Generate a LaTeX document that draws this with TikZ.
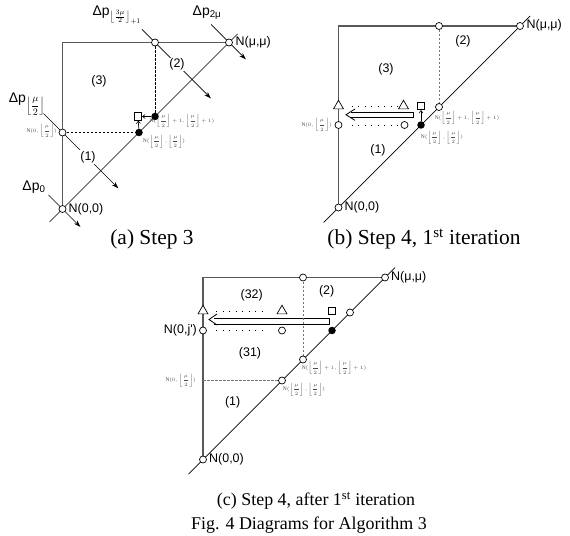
\documentclass[tikz,border=0pt]{standalone}
\usepackage{amsmath}
\usepackage{fontspec}
\setmainfont{Liberation Serif}
\newfontfamily\lsans{Liberation Sans}
\usetikzlibrary{arrows.meta,shapes.geometric,calc}
\newcommand{\myfl}{\left\lfloor\dfrac{\mu}{2}\right\rfloor}
\newcommand{\NHH}{$\mathrm{N}(\myfl,\myfl)$}
\newcommand{\NHP}{$\mathrm{N}(\myfl+1,\myfl+1)$}
\newcommand{\NZH}{$\mathrm{N}(0,\myfl)$}
\tikzset{
 frame/.style={draw=black!65, line width=1.1bp},
 diag/.style={draw=black, line width=0.7bp},
 adiag/.style={draw=black, line width=0.7bp, -{Stealth[length=7bp,width=4.5bp]}},
 oc/.style={circle, draw=black, fill=white, line width=0.7bp, inner sep=0pt, minimum size=7bp},
 fc/.style={circle, fill=black, inner sep=0pt, minimum size=7.5bp},
 sq/.style={rectangle, draw, fill=white, line width=0.7bp, inner sep=0pt, minimum size=7.5bp},
 tri/.style={regular polygon, regular polygon sides=3, draw, fill=white, line width=0.7bp, inner sep=0pt, minimum size=11.5bp},
 dsh/.style={line width=0.8bp, dash pattern=on 2.5bp off 1.5bp},
 gdsh/.style={dsh, draw=black!55},
 dots/.style={line width=0.9bp, dash pattern=on 1bp off 5.5bp},
 lab/.style={font=\fontsize{12.5}{14}\selectfont\lsans, inner sep=1bp},
 wlab/.style={lab, fill=white},
 small/.style={font=\fontsize{5.5}{6}\selectfont, text=black!70, inner sep=0pt},
 captext/.style={font=\fontsize{21.5}{24}\selectfont, inner sep=0pt},
 captextc/.style={font=\fontsize{18}{20}\selectfont, inner sep=0pt},
 dp/.style={font=\fontsize{14}{15}\selectfont\lsans, inner sep=0pt},
 sarr/.style={line width=0.6bp, -{Straight Barb[length=2.5bp,width=4bp]}},
 harr/.style={line width=0.8bp},
}
\begin{document}
\begin{tikzpicture}[x=1bp,y=-1bp]
\useasboundingbox (0,0) rectangle (570,536);
% ---------------- panel (a)
\coordinate (Oa) at (62.5,209);
\coordinate (Ma) at (229,42.5);
\coordinate (Ca) at (62.5,42.5);
\coordinate (Ta) at (155,42.5);
\coordinate (La) at (62.5,132.5);
\coordinate (F1a) at (139,132.5);
\coordinate (F2a) at (155,116.5);
\coordinate (Sa) at (138,116.5);
\draw[frame] (Oa) -- (Ca) -- (Ma);
\draw[diag] ($(Oa)+(-13,13)$) -- ($(Ma)+(8.5,-8.5)$);
\draw[adiag] ($(Oa)+(-14,-14)$) -- ($(Oa)+(18,18)$);
\draw[adiag] ($(La)+(-19,-19)$) -- ($(La)+(56,56)$);
\draw[adiag] ($(Ta)+(-13,-13)$) -- ($(Ta)+(56,56)$);
\draw[adiag] ($(Ma)+(-18,-18)$) -- ($(Ma)+(17,17)$);
\draw[dsh] (La) -- (F1a);
\draw[dsh] (Ta) -- (F2a);
\node[oc] (Oan) at (Oa) {};
\node[oc] (Man) at (Ma) {};
\node[oc] (Tan) at (Ta) {};
\node[oc] (Lan) at (La) {};
\node[fc] (F1an) at (F1a) {};
\node[fc] (F2an) at (F2a) {};
\node[sq] (San) at (Sa) {};
\draw[sarr] (F2an) -- (San);
\draw[sarr] (F1an) -- (San);
\node[wlab] (a1) at (88,157) {(1)};
\node[wlab] (a2) at (177,64.5) {(2)};
\node[lab] (a3) at (99,81) {(3)};
\node[lab, anchor=west] (aN0) at (67.5,209) {N(0,0)};
\node[lab, anchor=west] (aNM) at (234.5,42.5) {N(μ,μ)};
\node[dp] (adp0) at (34,187) {Δp\textsubscript{0}};
\node[dp] (adph) at (27,104) {Δp\textsubscript{$\myfl$}};
\node[dp] (adp3) at (117,15) {Δp\textsubscript{$\left\lfloor\frac{3\mu}{2}\right\rfloor_{+1}$}};
\node[dp] (adp2) at (207,13) {Δp\textsubscript{2μ}};
\node[small, anchor=east] (aNZH) at (57,131) {\NZH};
\node[small] (aNHP) at (182,121) {\NHP};
\node[small] (aNHH) at (164,141.5) {\NHH};
\node[captext] (capa) at (152,239) {(a) Step 3};
% ---------------- panel (b)
\coordinate (Ob) at (338.5,207.5);
\coordinate (Mb) at (520,26);
\coordinate (Cb) at (338.5,26);
\coordinate (Tb) at (439,26);
\coordinate (Db) at (439,107);
\coordinate (Fb) at (421,125);
\coordinate (Sb) at (421,106);
\coordinate (TLb) at (338.5,106);
\coordinate (CLb) at (338.5,125);
\coordinate (TIb) at (403.5,106);
\coordinate (CIb) at (404.5,125);
\draw[frame] (Ob) -- (Cb) -- (Mb);
\draw[diag] ($(Ob)+(-15,15)$) -- ($(Mb)+(10,-10)$);
\draw[gdsh] (Tb) -- (Db);
\draw[dots] ($(TLb)+(13,0)$) -- ($(TIb)+(-6,0)$);
\draw[dots] ($(CLb)+(13,0)$) -- ($(CIb)+(-6,0)$);
\draw[harr] (351,112.5) -- (413.5,112.5) -- (413.5,117) -- (351,117);
\draw[harr] (355,109) -- (346,114.7) -- (355,120.4);
\node[oc] (Obn) at (Ob) {};
\node[oc] (Mbn) at (Mb) {};
\node[oc] (Tbn) at (Tb) {};
\node[oc] (Dbn) at (Db) {};
\node[fc] (Fbn) at (Fb) {};
\node[sq] (Sbn) at (Sb) {};
\node[tri] (TLbn) at (TLb) {};
\node[oc] (CLbn) at (CLb) {};
\node[tri] (TIbn) at (TIb) {};
\node[oc] (CIbn) at (CIb) {};
\draw[sarr] (Fbn) -- (Sbn);
\node[lab] (b1) at (378,150) {(1)};
\node[lab] (b2) at (463,41) {(2)};
\node[lab] (b3) at (386,69) {(3)};
\node[lab, anchor=west] (bN0) at (343.5,207.5) {N(0,0)};
\node[lab, anchor=west] (bNM) at (525.5,25) {N(μ,μ)};
\node[small, anchor=east] (bNZH) at (332,125) {\NZH};
\node[small] (bNHP) at (467,118) {\NHP};
\node[small] (bNHH) at (442,137.5) {\NHH};
\node[captext] (capb) at (424,239) {(b) Step 4, 1\textsuperscript{st} iteration};
% ---------------- panel (c)
\coordinate (Oc) at (203,459.5);
\coordinate (Mc) at (385,277.5);
\coordinate (Cc) at (203,277.5);
\coordinate (Tc) at (303,277.5);
\coordinate (Dc) at (303,359.5);
\coordinate (Hc) at (282,380.5);
\coordinate (LHc) at (203,380.5);
\coordinate (Uc) at (350,312.5);
\coordinate (Fc) at (332,330.5);
\coordinate (Sc) at (332,311);
\coordinate (TLc) at (203,311);
\coordinate (CLc) at (203,330.5);
\coordinate (TIc) at (282,311);
\coordinate (CIc) at (282,330.5);
\draw[frame] (Oc) -- (Cc) -- (Mc);
\draw[diag] ($(Oc)+(-14.5,14.5)$) -- ($(Mc)+(10,-10)$);
\draw[dots] ($(TLc)+(13,0)$) -- ($(TIc)+(-17,0)$);
\draw[dots] ($(CLc)+(13,0)$) -- ($(CIc)+(-17,0)$);
\draw[harr] (214,318) -- (329.5,318) -- (329.5,324.5) -- (214,324.5);
\draw[harr] (217,314) -- (209,319.5) -- (217,325);
\draw[gdsh] (Tc) -- (Dc);
\draw[gdsh] (LHc) -- (Hc);
\node[oc] (Ocn) at (Oc) {};
\node[oc] (Mcn) at (Mc) {};
\node[oc] (Tcn) at (Tc) {};
\node[oc] (Dcn) at (Dc) {};
\node[oc] (Hcn) at (Hc) {};
\node[oc] (Ucn) at (Uc) {};
\node[fc] (Fcn) at (Fc) {};
\node[sq] (Scn) at (Sc) {};
\node[tri] (TLcn) at (TLc) {};
\node[oc] (CLcn) at (CLc) {};
\node[tri] (TIcn) at (TIc) {};
\node[oc] (CIcn) at (CIc) {};
\node[lab] (c1) at (232.7,402.3) {(1)};
\node[lab] (c2) at (326.7,291.7) {(2)};
\node[lab] (c32) at (251.7,295) {(32)};
\node[lab] (c31) at (250,353.3) {(31)};
\node[lab, anchor=west] (cN0) at (208,459.5) {N(0,0)};
\node[lab, anchor=west] (cNM) at (390,277.5) {N(μ,μ)};
\node[lab, anchor=east] (cNJ) at (198,330.5) {N(0,j')};
\node[small, anchor=east] (cNZH) at (196,380.5) {\NZH};
\node[small] (cNHP) at (334,368) {\NHP};
\node[small] (cNHH) at (304,389.5) {\NHH};
\node[captextc] (capc) at (316,501) {(c) Step 4, after 1\textsuperscript{st} iteration};
\node[captextc] (capf) at (309,525.5) {Fig. 4 Diagrams for Algorithm 3};
\end{tikzpicture}
\end{document}
